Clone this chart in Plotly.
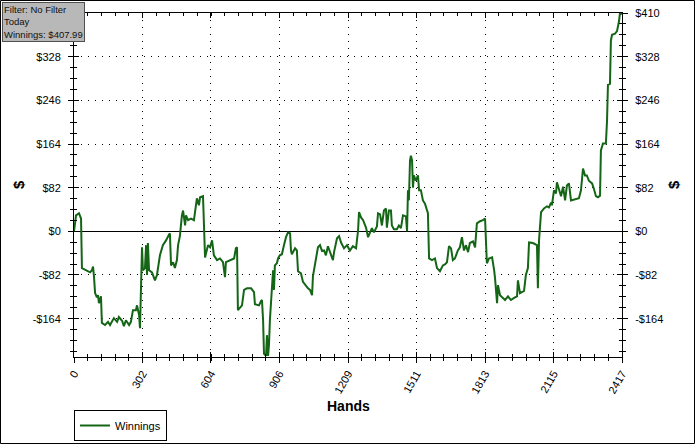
import plotly.graph_objects as go

# ---- data ----
hands = [0, 9, 22, 31, 35, 53, 71, 79, 84, 88, 93, 101, 106, 110, 119, 123, 137, 150, 159, 176,
         190, 198, 212, 220, 229, 243, 251, 260, 273, 278, 287, 291, 295, 300, 304, 313, 318, 322, 326, 331,
         344, 357, 366, 379, 392, 406, 419, 423, 428, 437, 445, 454, 459, 467, 476, 481, 490, 494, 503, 516,
         529, 538, 542, 551, 556, 569, 573, 578, 591, 600, 609, 617, 631, 644, 657, 666, 670, 688, 706, 714,
         719, 723, 732, 741, 750, 763, 781, 794, 798, 816, 825, 829, 834, 838, 847, 851, 856, 860, 864, 869,
         873, 878, 882, 886, 895, 900, 908, 917, 926, 935, 944, 953, 957, 961, 975, 983, 988, 1001, 1010, 1023,
         1032, 1041, 1050, 1054, 1063, 1076, 1085, 1094, 1103, 1111, 1120, 1133, 1142, 1147, 1160, 1169, 1178, 1191, 1204, 1217,
         1230, 1244, 1253, 1257, 1266, 1275, 1288, 1297, 1305, 1314, 1323, 1336, 1341, 1350, 1358, 1367, 1376, 1380, 1389, 1398,
         1402, 1411, 1424, 1433, 1442, 1451, 1464, 1469, 1473, 1477, 1482, 1486, 1491, 1495, 1499, 1508, 1517, 1522, 1530, 1539,
         1548, 1557, 1561, 1566, 1579, 1592, 1601, 1614, 1627, 1636, 1645, 1654, 1663, 1671, 1680, 1693, 1702, 1711, 1720, 1729,
         1738, 1746, 1760, 1769, 1777, 1791, 1804, 1813, 1817, 1821, 1830, 1844, 1853, 1857, 1866, 1870, 1879, 1888, 1901, 1914,
         1927, 1941, 1954, 1958, 1967, 1985, 1993, 2002, 2007, 2024, 2042, 2046, 2051, 2060, 2073, 2086, 2095, 2104, 2108, 2117,
         2126, 2130, 2139, 2148, 2157, 2166, 2174, 2183, 2192, 2210, 2227, 2236, 2245, 2254, 2262, 2271, 2285, 2293, 2302, 2311,
         2320, 2324, 2333, 2346, 2351, 2355, 2364, 2368, 2373, 2386, 2395, 2404, 2408, 2417]
winnings = [0, 30, 34, 24, -69, -73, -77, -73, -66, -84, -116, -124, -120, -135, -122, -172, -176, -170, -176, -163,
            -170, -161, -168, -178, -167, -176, -170, -148, -148, -139, -157, -182, -122, -30, -73, -69, -26, -82, -22, -73,
            -77, -92, -82, -45, -26, -17, -6, -4, -64, -58, -69, -54, -26, -9, 30, 39, 11, 30, 21, 24,
            21, 49, 62, 49, 64, 66, 17, -49, -26, -30, -17, -45, -54, -51, -58, -86, -58, -54, -51, -32,
            -30, -148, -144, -139, -110, -107, -107, -114, -137, -139, -131, -129, -167, -230, -234, -195, -234, -213, -167, -129,
            -101, -73, -110, -64, -60, -51, -45, -43, -26, -11, -2, -4, -36, -43, -32, -36, -75, -79, -95, -103,
            -107, -110, -120, -84, -64, -30, -26, -37, -36, -45, -28, -45, -54, -39, -13, -9, -21, -32, -26, -36,
            -28, -32, 2, 36, 26, 21, 7, -11, -2, 6, -2, 9, 34, 32, 11, 39, 43, 7, 39, 39,
            11, 4, 4, 11, 6, 30, 28, 0, 77, 58, 133, 142, 133, 82, 105, 95, 105, 77, 77, 58,
            52, 36, 34, -51, -54, -51, -69, -75, -64, -62, -58, -28, -32, -54, -51, -36, -30, -11, -36, -26,
            -39, -22, -19, -30, 15, 19, 21, 24, -17, -60, -51, -49, -73, -88, -135, -101, -120, -124, -129, -122,
            -129, -125, -122, -92, -116, -112, -82, -69, -21, -22, -26, -107, -17, 36, 43, 47, 45, 54, 49, 77,
            71, 92, 80, 66, 84, 58, 86, 90, 58, 60, 62, 77, 118, 105, 105, 95, 90, 80, 66, 64,
            67, 152, 165, 165, 208, 275, 277, 358, 369, 371, 376, 395, 410, 407.99]

x_ticks = [0, 302, 604, 906, 1209, 1511, 1813, 2115, 2417]
x_tick_labels = ["0", "302", "604", "906", "1209", "1511", "1813", "2115", "2417"]
y_ticks = [-164, -82, 0, 82, 164, 246, 328, 410]
y_tick_labels_left = ["-$164", "-$82", "$0", "$82", "$164", "$246", "$328", ""]  # $410 hidden by info box
y_tick_labels_right = ["-$164", "-$82", "$0", "$82", "$164", "$246", "$328", "$410"]
x_range = [0, 2417]
y_range = [-236, 410]
series_name = "Winnings"
info_text = "Filter: No Filter<br>Today<br>Winnings: $407.99"

GREEN = "#146616"
FONT = "Liberation Sans"
GRID_DASH = "1px,6px"

fig = go.Figure()
fig.add_trace(go.Scatter(x=hands, y=winnings, mode="lines", name=series_name,
                         line=dict(color=GREEN, width=2), xaxis="x", yaxis="y",
                         showlegend=True))
# empty helper traces so that the overlay axes (right labels, crossing ticks) are drawn
for xa, ya in [("x", "y2"), ("x", "y3"), ("x3", "y")]:
    fig.add_trace(go.Scatter(x=[None], y=[None], mode="lines", xaxis=xa, yaxis=ya,
                             showlegend=False, hoverinfo="skip"))

tickfont = dict(family=FONT, size=11, color="black")
x_minor_dt = 2417 / 40
y_minor_dt = 20.5

fig.update_layout(
    width=696, height=445,
    margin=dict(l=74, r=74, t=13, b=88, pad=0, autoexpand=False),
    paper_bgcolor="white", plot_bgcolor="white",
    font=dict(family=FONT, size=11, color="black"),
    showlegend=True,
    legend=dict(x=0, y=(357 - 410) / 344, xanchor="left", yanchor="top",
                bgcolor="white", bordercolor="black", borderwidth=1,
                font=dict(family=FONT, size=11, color="black"),
                itemwidth=30, tracegroupgap=0),
    xaxis=dict(domain=[0, 1], anchor="y", range=x_range, automargin=False,
               tickmode="array", tickvals=x_ticks, ticktext=x_tick_labels,
               tickangle=-60, ticks="outside", ticklen=5, tickcolor="black", tickwidth=1,
               showline=True, linecolor="black", linewidth=1,
               showgrid=True, gridcolor="black", gridwidth=1, griddash=GRID_DASH,
               zeroline=False, tickfont=tickfont,
               minor=dict(tickmode="linear", tick0=0, dtick=x_minor_dt, ticks="outside",
                          ticklen=3, tickcolor="black", showgrid=False)),
    xaxis3=dict(overlaying="x", anchor="y", side="bottom", range=x_range, automargin=False,
                tickmode="array", tickvals=x_ticks, showticklabels=False,
                ticks="inside", ticklen=5, tickcolor="black",
                showline=True, linecolor="black", linewidth=1, mirror="ticks",
                showgrid=False, zeroline=False,
                minor=dict(tickmode="linear", tick0=0, dtick=x_minor_dt, ticks="inside",
                           ticklen=3, tickcolor="black", showgrid=False)),
    yaxis=dict(domain=[0, 1], anchor="x", range=y_range, automargin=False,
               tickmode="array", tickvals=y_ticks, ticktext=y_tick_labels_left,
               ticks="outside", ticklen=5, tickcolor="black",
               showline=True, linecolor="black", linewidth=1,
               showgrid=True, gridcolor="black", gridwidth=1, griddash=GRID_DASH,
               zeroline=True, zerolinecolor="black", zerolinewidth=1,
               tickfont=tickfont, ticklabelstandoff=5,
               minor=dict(tickmode="linear", tick0=0, dtick=y_minor_dt, ticks="outside",
                          ticklen=3, tickcolor="black", showgrid=False)),
    yaxis2=dict(overlaying="y", anchor="x", side="right", range=y_range, automargin=False,
                tickmode="array", tickvals=y_ticks, ticktext=y_tick_labels_right,
                ticks="outside", ticklen=5, tickcolor="black",
                showline=True, linecolor="black", linewidth=1,
                showgrid=False, zeroline=False, tickfont=tickfont, ticklabelstandoff=5,
                minor=dict(tickmode="linear", tick0=0, dtick=y_minor_dt, ticks="outside",
                           ticklen=3, tickcolor="black", showgrid=False)),
    yaxis3=dict(overlaying="y", anchor="x", side="left", range=y_range, automargin=False,
                tickmode="array", tickvals=y_ticks, showticklabels=False,
                ticks="inside", ticklen=5, tickcolor="black",
                showline=True, linecolor="black", linewidth=1, mirror="ticks",
                showgrid=False, zeroline=False,
                minor=dict(tickmode="linear", tick0=0, dtick=y_minor_dt, ticks="inside",
                           ticklen=3, tickcolor="black", showgrid=False)),
)

# axis titles and info box
fig.add_annotation(text="<b>Hands</b>", xref="paper", yref="paper", x=0.5, y=(357 - 406) / 344,
                   xanchor="center", yanchor="middle", showarrow=False,
                   font=dict(family=FONT, size=14, color="black"))
for xp in [(18 - 74) / 548, (673 - 74) / 548]:
    fig.add_annotation(text="<b>$</b>", xref="paper", yref="paper", x=xp, y=0.5,
                       xanchor="center", yanchor="middle", showarrow=False, textangle=-90,
                       font=dict(family=FONT, size=15, color="black"))
fig.add_annotation(text=info_text, xref="paper", yref="paper",
                   x=(2 - 74) / 548, y=(357 - 2) / 344, xanchor="left", yanchor="top",
                   align="left", showarrow=False, bgcolor="#b8b8b8",
                   bordercolor="#505050", borderwidth=1, borderpad=1,
                   font=dict(family=FONT, size=9.5, color="#111111"))

# outer frame of the picture
fig.add_shape(type="rect", xref="paper", yref="paper",
              x0=(0.5 - 74) / 548, x1=(694.5 - 74) / 548,
              y0=(357 - 443.5) / 344, y1=(357 - 0.5) / 344,
              line=dict(color="black", width=1), fillcolor="rgba(0,0,0,0)", layer="above")

# remove the browser's default 8px page margin so the figure sits at the top-left corner
fig.write_html("out.html", config={"displayModeBar": False},
               post_script="document.body.style.margin='0';document.body.style.overflow='hidden';")
